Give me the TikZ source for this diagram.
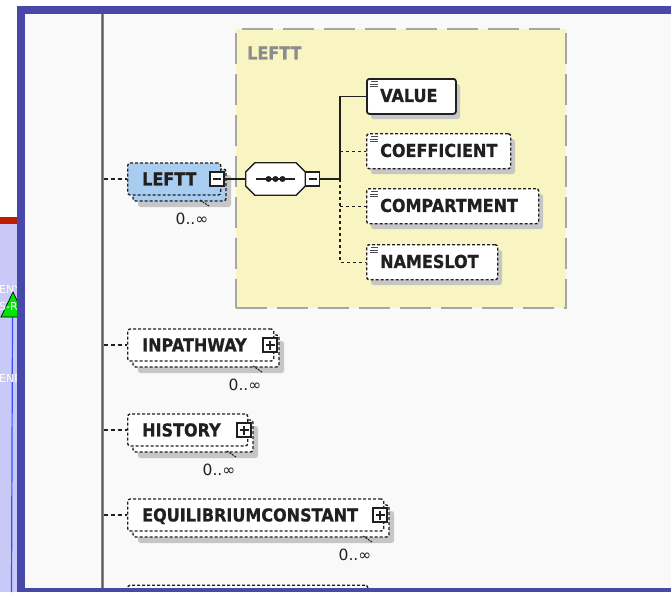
\documentclass[tikz,border=0pt]{standalone}
\usepackage{fontspec}
\setmainfont{DejaVu Sans}
\newfontfamily\elemfamily{DejaVu Sans}[FakeStretch=0.9, BoldFeatures={FakeBold=0.8}]
\usetikzlibrary{calc}

\definecolor{frameblue}{HTML}{4848A8}
\definecolor{pagebg}{HTML}{F9F9F9}
\definecolor{selblue}{HTML}{A8CDF0}
\definecolor{grpyellow}{HTML}{F9F5C2}
\definecolor{grpborder}{HTML}{A6A6A6}
\definecolor{grptitle}{HTML}{8C8C8C}
\definecolor{shadowgray}{HTML}{C6C6C6}
\definecolor{inkgray}{HTML}{202020}
\definecolor{railgray}{HTML}{8A8A8A}
\definecolor{stripblue}{HTML}{C9C9F8}
\definecolor{stripred}{HTML}{C01C00}
\definecolor{tagreen}{HTML}{00E400}
\definecolor{linkblue}{HTML}{3050FF}

\tikzset{
  elemfont/.style={font=\elemfamily\bfseries\fontsize{17.8}{20}\selectfont, text=inkgray},
  lbl/.style={elemfont, inner sep=0pt, text height=12.9pt, text depth=0pt, anchor=west},
  optborder/.style={draw=inkgray, line width=1.4pt, dash pattern=on 3pt off 2pt},
  reqborder/.style={draw=inkgray, line width=1.8pt},
  elembox/.style={rectangle, rounded corners=2.5pt, inner sep=0pt},
  shadowfill/.style={fill=shadowgray, rounded corners=2.5pt},
  expander/.style={rectangle, draw=inkgray, fill=white, line width=1.1pt, minimum size=14pt, inner sep=0pt},
  link/.style={draw=inkgray, line width=1.4pt},
  optlink/.style={link, dash pattern=on 3pt off 3pt},
  raillink/.style={link, line width=1.2pt, dash pattern=on 4pt off 3pt},
  card/.style={font=\fontsize{15.5}{18}\selectfont, text=inkgray, inner sep=0pt},
  striptext/.style={font=\fontsize{11}{12}\selectfont, text=white, inner sep=0pt, anchor=west},
}

% repeated element: name, right edge, centre y, label, fill
\newcommand{\xsdRepeated}[5]{%
  \fill[shadowfill] (138,#3-4) rectangle (#2+11,#3+28);
  \path[optborder, rounded corners=2.5pt, fill=#5] (133,#3-10) rectangle (#2+6,#3+22);
  \node[elembox, optborder, fill=#5, minimum width={#2-127}, minimum height=32, anchor=west] (#1) at (127,#3) {};
  \node[lbl] (#1-text) at (142,#3) {#4};
  \node[expander] (#1-x) at (#2-3,#3) {};
  \node[card] (#1-card) at (#2-28,#3+40) {0..∞};
  \draw[inkgray, line width=1pt, dash pattern=on 2pt off 1pt] (#2-20,#3+21) -- (#2-11,#3+27);
}
\newcommand{\xsdMinus}[1]{%
  \draw[inkgray, line width=1.1pt] ([xshift=-4pt]#1.center) -- ([xshift=4pt]#1.center);}
\newcommand{\xsdPlus}[1]{%
  \draw[inkgray, line width=1.1pt] ([xshift=-4.5pt]#1.center) -- ([xshift=4.5pt]#1.center)
    ([yshift=-4.5pt]#1.center) -- ([yshift=4.5pt]#1.center);}
% child element: name, top y, width, label, border style
\newcommand{\xsdChild}[5]{%
  \fill[shadowfill] (371,#2+6) rectangle (371+#3,#2+41);
  \node[elembox, #5, fill=white, minimum width=#3, minimum height=35, anchor=north west] (#1) at (366,#2) {};
  \node[lbl] (#1-text) at (380,#2+17.5) {#4};
  \draw[inkgray!80, line width=0.8pt] (371,#2+3.5) -- (377.5,#2+3.5)
    (369.5,#2+6) -- (377.5,#2+6) (369.5,#2+8.5) -- (377.5,#2+8.5);
}
% octagon outline of a compositor node
\newcommand{\xsdOctagon}[1]{%
  ([xshift=9pt]#1.north west) -- ([xshift=-9pt]#1.north east) -- ([yshift=-9pt]#1.north east)
  -- ([yshift=9pt]#1.south east) -- ([xshift=-9pt]#1.south east) -- ([xshift=9pt]#1.south west)
  -- ([yshift=9pt]#1.south west) -- ([yshift=-9pt]#1.north west) -- cycle}

\begin{document}
\begin{tikzpicture}[x=1pt,y=-1pt]
\useasboundingbox (0,0) rectangle (671,592);
\fill[white] (0,0) rectangle (671,592);

% neighbouring window strip on the left
\fill[stripblue] (0,224) rectangle (18,592);
\fill[stripred] (0,217) rectangle (18,224);
\draw[linkblue, line width=1.2pt] (12.5,317) -- (11.5,592);
\node[striptext] (stripa) at (-1,289) {ENY};
\filldraw[fill=tagreen, draw=black, line width=0.7pt] (13,292) -- (1,317) -- (25,317) -- cycle;
\node[striptext] (stripb) at (-1,306) {S-R};
\node[striptext] (stripc) at (-1,378) {ENR};

% canvas
\fill[pagebg] (25,14) rectangle (671,588);
\draw[railgray, line width=3pt] (102,14) -- (102,588);
\draw[black!65, line width=1pt] (102,14) -- (102,588);

% content group of LEFTT
\node[draw=grpborder, fill=grpyellow, line width=1.6pt, dash pattern=on 31pt off 10pt,
      minimum width=330, minimum height=279, inner sep=0pt, anchor=north west] (group) at (235,28) {};
\node[lbl, text=grptitle] (grouptitle) at (247,53) {LEFTT};

% repeated elements
\xsdRepeated{leftt}{220}{179}{LEFTT}{selblue}
\xsdMinus{leftt-x}
\xsdRepeated{inpathway}{273}{345}{INPATHWAY}{white}
\xsdPlus{inpathway-x}
\xsdRepeated{history}{247}{430}{HISTORY}{white}
\xsdPlus{history-x}
\xsdRepeated{equil}{383}{515}{EQUILIBRIUMCONSTANT}{white}
\xsdPlus{equil-x}

% next element, mostly out of view
\begin{scope}
  \clip (25,14) rectangle (671,588);
  \node[elembox, optborder, fill=white, minimum width=240, minimum height=32, anchor=north west] (nextelem) at (127,584.5) {};
\end{scope}

% connectors from the rail
\coordinate (railA) at (103.5,179);
\coordinate (railB) at (103.5,345);
\coordinate (railC) at (103.5,430);
\coordinate (railD) at (103.5,515);
\draw[raillink] (railA) -- (leftt.west);
\draw[raillink] (railB) -- (inpathway.west);
\draw[raillink] (railC) -- (history.west);
\draw[raillink] (railD) -- (equil.west);

% sequence compositor
\node[minimum width=59, minimum height=32, inner sep=0pt] (seq) at (275.5,179) {};
\begin{scope}[shift={(5,6)}]
  \fill[shadowgray] \xsdOctagon{seq};
\end{scope}
\filldraw[fill=white, draw=inkgray, line width=1.3pt] \xsdOctagon{seq};
\draw[inkgray, line width=1.2pt] ([xshift=10pt]seq.west) -- ([xshift=-10pt]seq.east);
\fill[inkgray] ([xshift=-7pt]seq.center) circle (3) (seq.center) circle (3) ([xshift=7pt]seq.center) circle (3);
\node[expander] (seq-x) at (312.5,179) {};
\xsdMinus{seq-x}
\draw[link] (leftt-x.east) -- (seq.west);

% children
\xsdChild{value}{78}{89}{VALUE}{reqborder}
\xsdChild{coeff}{133}{144}{COEFFICIENT}{optborder}
\xsdChild{compart}{188}{172}{COMPARTMENT}{optborder}
\xsdChild{nameslot}{244}{131}{NAMESLOT}{optborder}

\coordinate (branch) at (340,179);
\draw[link] (seq-x.east) -- (branch);
\draw[link] (branch) |- (value.west);
\draw[optlink] (branch) |- (nameslot.west);
\draw[optlink] (branch |- coeff.west) -- (coeff.west);
\draw[optlink] (branch |- compart.west) -- (compart.west);

% window frame
\fill[frameblue] (17,6) rectangle (671,14);
\fill[frameblue] (17,6) rectangle (25,592);
\fill[frameblue] (17,588) rectangle (671,592);
\end{tikzpicture}
\end{document}
